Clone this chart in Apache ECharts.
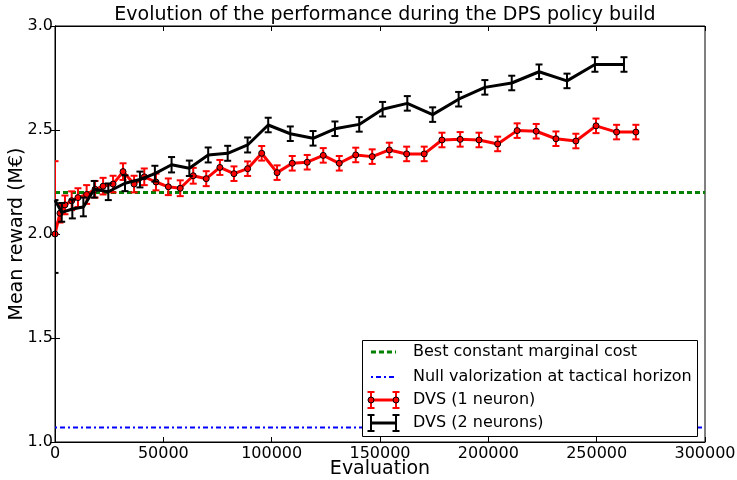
<!DOCTYPE html>
<html>
<head>
<meta charset="utf-8">
<script src="https://cdn.jsdelivr.net/npm/echarts@6/dist/echarts.min.js"></script>
<style>
  html, body { margin: 0; padding: 0; background: #fff; }
  #chart { width: 737px; height: 480px; }
</style>
</head>
<body>
<div id="chart"></div>
<script>
// reference levels
const bestConstant = 2.2;
const nullValorization = 1.07;

// DVS (1 neuron)
const redX = [0, 2300, 4600, 7700, 10600, 14600, 18500, 22200, 26800, 31400, 36500, 41200, 46600, 52300,
  57800, 63800, 69800, 76100, 82600, 88900, 95400, 102500, 109500, 116400, 123800, 131200, 138800,
  146400, 154300, 162300, 170400, 178600, 187000, 195700, 204300, 213300, 222100, 231200, 240400,
  249700, 259200, 268100];
const redY = [2.0, 2.10, 2.14, 2.16, 2.175, 2.19, 2.215, 2.23, 2.24, 2.30, 2.24, 2.275, 2.25, 2.227,
  2.22, 2.28, 2.266, 2.32, 2.29, 2.314, 2.388, 2.295, 2.34, 2.345, 2.378, 2.34, 2.38,
  2.372, 2.404, 2.385, 2.385, 2.452, 2.455, 2.452, 2.433, 2.497, 2.494, 2.458, 2.447,
  2.52, 2.49, 2.49];
// error: number = symmetric, [down, up] otherwise
const redErr = [[0, 0.35], 0.045, 0.045, 0.045, 0.045, 0.045, 0.04, 0.04, 0.04, 0.04, 0.04, 0.04, 0.04, 0.04,
  0.038, 0.038, 0.036, 0.036, 0.035, 0.035, 0.035, 0.035, 0.035, 0.035, 0.035, 0.035, 0.035,
  0.035, 0.035, 0.035, 0.035, 0.035, 0.035, 0.035, 0.035, 0.035, 0.035, 0.035, 0.035,
  0.035, 0.035, 0.035];

// DVS (2 neurons)
const blackX = [0, 3100, 8000, 13100, 18100, 24600, 32300, 39200, 46100, 53800, 62000, 70700, 79700,
  88900, 98400, 108600, 119100, 129200, 140400, 151200, 162600, 174300, 186300, 198400, 210800,
  223400, 236300, 249200, 262600];
const blackY = [2.163, 2.104, 2.12, 2.13, 2.215, 2.203, 2.244, 2.262, 2.29, 2.333, 2.316, 2.38, 2.388,
  2.428, 2.524, 2.482, 2.46, 2.506, 2.527, 2.60, 2.628, 2.574, 2.648, 2.705, 2.726,
  2.78, 2.736, 2.815, 2.815];
const blackErr = [[0.35, 0], 0.045, 0.045, 0.045, 0.04, 0.04, 0.038, 0.038, 0.038, 0.037, 0.037, 0.036, 0.036,
  0.036, 0.035, 0.035, 0.035, 0.035, 0.035, 0.035, 0.035, 0.035, 0.035, 0.035, 0.035,
  0.035, 0.035, 0.035, 0.035];

const xTicks = [0, 50000, 100000, 150000, 200000, 250000, 300000];
const yTicks = [1.0, 1.5, 2.0, 2.5, 3.0];

const FONT = 'DejaVu Sans';
const chart = echarts.init(document.getElementById('chart'));

function errorBars(xs, ys, errs, color, z) {
  return {
    type: 'custom',
    z: z,
    clip: true,
    silent: true,
    encode: { x: 0, y: [1, 2] },
    data: xs.map((x, i) => {
      const e = errs[i];
      const down = Array.isArray(e) ? e[0] : e;
      const up = Array.isArray(e) ? e[1] : e;
      return [x, ys[i] - down, ys[i] + up];
    }),
    renderItem: (params, api) => {
      const lo = api.coord([api.value(0), api.value(1)]);
      const hi = api.coord([api.value(0), api.value(2)]);
      const w = 3.5;
      const style = { stroke: color, lineWidth: 2 };
      return {
        type: 'group',
        children: [
          { type: 'line', shape: { x1: lo[0], y1: lo[1], x2: hi[0], y2: hi[1] }, style: style },
          { type: 'line', shape: { x1: lo[0] - w, y1: lo[1], x2: lo[0] + w, y2: lo[1] }, style: style },
          { type: 'line', shape: { x1: hi[0] - w, y1: hi[1], x2: hi[0] + w, y2: hi[1] }, style: style }
        ]
      };
    }
  };
}

const axisCommon = {
  axisLine: { show: true, lineStyle: { color: '#000', width: 1 } },
  axisTick: { show: true, inside: true, length: 5, lineStyle: { color: '#000' } },
  splitLine: { show: false }
};

// legend drawn by hand (matplotlib style box)
const lgX = 362, lgY = 340, lgW = 335, lgH = 96;
const rows = [352, 377, 400, 423];
const s0 = 371, s1 = 396, tx = 413;
function legendBar(x, y, color) {
  return [
    { type: 'line', shape: { x1: x, y1: y - 8, x2: x, y2: y + 8 }, style: { stroke: color, lineWidth: 2 } },
    { type: 'line', shape: { x1: x - 3.5, y1: y - 8, x2: x + 3.5, y2: y - 8 }, style: { stroke: color, lineWidth: 2 } },
    { type: 'line', shape: { x1: x - 3.5, y1: y + 8, x2: x + 3.5, y2: y + 8 }, style: { stroke: color, lineWidth: 2 } }
  ];
}
const legendTexts = ['Best constant marginal cost', 'Null valorization at tactical horizon',
  'DVS (1 neuron)', 'DVS (2 neurons)'];
const legendChildren = [
  { type: 'rect', shape: { x: lgX + 0.5, y: lgY + 0.5, width: lgW, height: lgH }, style: { fill: '#fff', stroke: '#000', lineWidth: 1 } },
  { type: 'line', shape: { x1: s0, y1: rows[0], x2: s1, y2: rows[0] }, style: { stroke: '#008000', lineWidth: 3, lineDash: [5, 3] } },
  { type: 'line', shape: { x1: s0, y1: rows[1], x2: s1, y2: rows[1] }, style: { stroke: '#0000ff', lineWidth: 2, lineDash: [2, 3, 5, 3] } },
  { type: 'line', shape: { x1: s0, y1: rows[2], x2: s1, y2: rows[2] }, style: { stroke: '#ff0000', lineWidth: 3 } },
  ...legendBar(s0, rows[2], '#ff0000'),
  ...legendBar(s1, rows[2], '#ff0000'),
  { type: 'circle', shape: { cx: s0, cy: rows[2], r: 3 }, style: { fill: '#ff0000', stroke: '#000', lineWidth: 1 } },
  { type: 'circle', shape: { cx: s1, cy: rows[2], r: 3 }, style: { fill: '#ff0000', stroke: '#000', lineWidth: 1 } },
  { type: 'line', shape: { x1: s0, y1: rows[3], x2: s1, y2: rows[3] }, style: { stroke: '#000', lineWidth: 3 } },
  ...legendBar(s0, rows[3], '#000'),
  ...legendBar(s1, rows[3], '#000')
];
legendTexts.forEach((t, i) => {
  legendChildren.push({
    type: 'text', x: tx, y: rows[i],
    style: { text: t, font: '16px "DejaVu Sans"', fill: '#000', verticalAlign: 'middle', align: 'left' }
  });
});
legendChildren.forEach((c, i) => { c.z = 100 + i; });

const option = {
  animation: false,
  backgroundColor: '#fff',
  title: {
    text: 'Evolution of the performance during the DPS policy build',
    left: 380,
    top: 1,
    textAlign: 'center',
    textStyle: { fontFamily: FONT, fontSize: 19, fontWeight: 'normal', color: '#000' }
  },
  grid: {
    left: 55, top: 26, width: 650, height: 416,
    outerBoundsMode: 'none', containLabel: false,
    show: true, borderColor: '#000', borderWidth: 1, backgroundColor: 'transparent'
  },
  xAxis: [
    Object.assign({}, axisCommon, {
      type: 'value', position: 'bottom', min: 0, max: 300000, interval: 50000,
      name: 'Evaluation', nameLocation: 'middle', nameGap: 18, nameMoveOverlap: false,
      nameTextStyle: { fontFamily: FONT, fontSize: 19, color: '#000' },
      axisLabel: {
        margin: 4, fontFamily: FONT, fontSize: 16, color: '#000',
        formatter: v => (xTicks.includes(v) ? String(v) : '')
      }
    }),
    Object.assign({}, axisCommon, {
      type: 'value', position: 'top', min: 0, max: 300000, interval: 50000,
      axisLabel: { show: false }
    })
  ],
  yAxis: [
    Object.assign({}, axisCommon, {
      type: 'value', position: 'left', min: 1, max: 3, interval: 0.5,
      name: 'Mean reward (M€)', nameLocation: 'middle', nameGap: 28, nameRotate: 90, nameMoveOverlap: false,
      nameTextStyle: { fontFamily: FONT, fontSize: 19, color: '#000' },
      axisLabel: {
        margin: 2, fontFamily: FONT, fontSize: 16, color: '#000',
        formatter: v => (yTicks.includes(v) ? v.toFixed(1) : '')
      }
    }),
    Object.assign({}, axisCommon, {
      type: 'value', position: 'right', min: 1, max: 3, interval: 0.5,
      axisLabel: { show: false }
    })
  ],
  series: [
    {
      type: 'line', name: 'Best constant marginal cost', z: 2, symbol: 'none', silent: true,
      data: [[0, bestConstant], [300000, bestConstant]],
      lineStyle: { color: '#008000', width: 3, type: [5, 3] }
    },
    {
      type: 'line', name: 'Null valorization at tactical horizon', z: 2, symbol: 'none', silent: true,
      data: [[0, nullValorization], [300000, nullValorization]],
      lineStyle: { color: '#0000ff', width: 2, type: [2, 3, 5, 3] }
    },
    errorBars(redX, redY, redErr, '#ff0000', 3),
    {
      type: 'line', name: 'DVS (1 neuron)', z: 4, silent: true,
      data: redX.map((x, i) => [x, redY[i]]),
      lineStyle: { color: '#ff0000', width: 3 },
      symbol: 'circle', symbolSize: 6, showAllSymbol: true,
      itemStyle: { color: '#ff0000', borderColor: '#000', borderWidth: 1 }
    },
    errorBars(blackX, blackY, blackErr, '#000', 5),
    {
      type: 'line', name: 'DVS (2 neurons)', z: 6, silent: true,
      data: blackX.map((x, i) => [x, blackY[i]]),
      lineStyle: { color: '#000', width: 3 },
      symbol: 'none'
    }
  ],
  graphic: [{ type: 'group', z: 100, children: legendChildren }]
};

chart.setOption(option);
</script>
</body>
</html>
